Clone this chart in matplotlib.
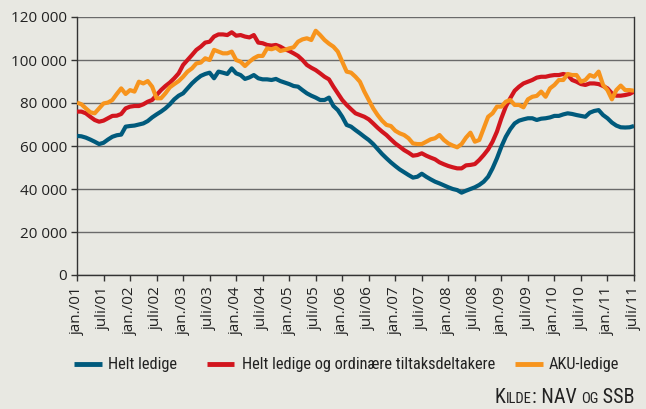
import matplotlib
matplotlib.use("Agg")
import matplotlib.pyplot as plt
from matplotlib import font_manager
from matplotlib.lines import Line2D

# ---- data (thousands of persons), monthly jan 2001 .. jul 2011 ----
helt_ledige = [
    64.7, 64.5, 63.9, 63.0, 62.0, 60.9, 61.5, 63.0, 64.3, 65.0,
    65.3, 69.0, 69.3, 69.5, 70.0, 70.5, 71.6, 73.3, 74.7, 76.0,
    77.5, 79.4, 81.7, 83.4, 84.5, 86.8, 89.1, 91.0, 92.6, 93.5,
    94.1, 91.5, 94.6, 94.1, 93.5, 96.1, 93.8, 93.0, 91.2, 91.9,
    93.0, 91.5, 91.0, 91.0, 90.7, 91.2, 90.2, 89.5, 88.8, 87.9,
    87.6, 86.0, 84.5, 83.4, 82.5, 81.4, 81.4, 82.5, 78.6, 76.7,
    73.6, 69.8, 69.0, 67.4, 65.9, 64.3, 62.8, 60.9, 58.6, 56.3,
    54.3, 52.4, 50.7, 49.1, 47.8, 46.5, 45.3, 45.7, 47.1, 45.7,
    44.5, 43.4, 42.6, 41.7, 40.8, 40.0, 39.5, 38.3, 39.2, 40.0,
    40.8, 41.9, 43.4, 45.7, 49.6, 54.3, 59.7, 64.3, 67.8, 70.5,
    71.8, 72.4, 72.9, 72.9, 72.1, 72.7, 72.9, 73.3, 74.0, 74.0,
    74.7, 75.2, 74.9, 74.4, 74.0, 73.6, 75.5, 76.3, 76.7, 74.4,
    72.9, 70.9, 69.5, 68.7, 68.6, 68.7, 69.3,
]
helt_ledige_tiltak = [
    76.0, 76.0, 75.2, 73.6, 72.1, 71.3, 71.8, 72.9, 74.0, 74.1,
    74.9, 77.5, 78.3, 78.6, 78.6, 79.4, 80.6, 81.4, 83.7, 86.0,
    87.9, 89.5, 91.5, 93.8, 97.7, 100.0, 102.3, 104.7, 106.2, 108.1,
    108.5, 110.9, 111.9, 111.9, 111.6, 112.9, 111.3, 111.6, 110.9, 110.5,
    111.6, 108.1, 107.8, 107.0, 106.7, 107.0, 106.2, 105.0, 104.2, 103.1,
    101.9, 100.0, 97.7, 96.4, 95.3, 93.8, 92.2, 91.0, 87.6, 84.5,
    81.4, 79.1, 77.1, 75.2, 74.4, 73.6, 72.4, 70.5, 68.5, 66.7,
    65.1, 63.1, 61.2, 59.7, 58.1, 56.9, 55.5, 55.8, 56.6, 55.5,
    54.6, 53.8, 52.4, 51.5, 50.7, 50.1, 49.6, 49.6, 51.0, 51.2,
    51.6, 53.5, 55.8, 58.4, 62.0, 66.7, 72.9, 78.3, 82.2, 85.7,
    87.6, 89.1, 89.9, 90.7, 91.8, 92.2, 92.2, 92.7, 93.0, 93.0,
    93.5, 93.0, 90.7, 89.9, 88.8, 88.4, 89.1, 89.1, 88.8, 87.9,
    86.8, 84.5, 83.4, 83.4, 83.7, 84.2, 85.3,
]
aku_ledige = [
    80.2, 79.4, 77.5, 75.7, 75.2, 77.5, 79.8, 80.2, 81.4, 84.2,
    86.8, 84.2, 86.0, 85.3, 89.9, 89.1, 90.2, 87.6, 82.2, 82.2,
    84.5, 87.3, 88.8, 90.2, 92.2, 94.6, 96.1, 98.4, 98.8, 100.8,
    100.0, 104.7, 103.9, 103.1, 103.1, 103.9, 100.0, 99.2, 97.2, 99.2,
    100.8, 101.9, 101.9, 105.4, 105.0, 105.7, 104.2, 104.7, 105.4, 105.9,
    108.5, 109.6, 110.1, 109.3, 113.6, 111.6, 109.3, 107.6, 106.2, 103.9,
    99.2, 94.6, 94.1, 92.2, 89.9, 85.3, 81.4, 77.5, 74.4, 71.8,
    69.8, 69.3, 67.1, 65.9, 65.1, 63.6, 61.2, 60.9, 60.9, 62.0,
    63.1, 63.6, 65.1, 62.8, 61.2, 60.2, 59.4, 60.9, 63.9, 66.2,
    62.0, 62.8, 68.2, 73.6, 75.2, 78.3, 78.3, 80.6, 81.4, 79.1,
    79.1, 78.0, 81.7, 82.9, 83.3, 85.3, 82.9, 86.8, 88.4, 90.7,
    90.7, 93.5, 93.0, 93.0, 89.9, 90.7, 93.0, 92.2, 94.6, 88.4,
    86.0, 81.7, 86.0, 88.1, 86.0, 86.0, 85.7,
]
series_names = ["Helt ledige", "Helt ledige og ordinære tiltaksdeltakere", "AKU-ledige"]
series_colors = ["#005a7c", "#d2151e", "#f7941d"]
year_labels = ["01", "02", "03", "04", "05", "06", "07", "08", "09", "10", "11"]
y_ticks = [0, 20000, 40000, 60000, 80000, 100000, 120000]
source_parts = [("K", True), ("ILDE", False), (": NAV ", True), ("OG", False), (" SSB", True)]

# ---- style ----
BG = "#e8e8e2"
W, H = 646, 409
available = {f.name for f in font_manager.fontManager.ttflist}
COND = "Lato"
for cand in ["Liberation Sans Narrow", "Roboto Condensed", "Open Sans Condensed", "Lato"]:
    if cand in available:
        COND = cand
        break
TICKF = "Open Sans"
plt.rcParams["font.family"] = [TICKF, "DejaVu Sans"]

fig = plt.figure(figsize=(W / 100, H / 100), dpi=100, facecolor=BG)
ax = fig.add_axes([77 / W, 1 - 275 / H, (634 - 77) / W, (275 - 17) / H])
ax.set_facecolor(BG)

months = list(range(len(helt_ledige)))
all_series = [helt_ledige, helt_ledige_tiltak, aku_ledige]
for vals, name, col in zip(all_series, series_names, series_colors):
    ax.plot(months, [v * 1000 for v in vals], color=col, lw=3.0, label=name,
            solid_joinstyle="round", solid_capstyle="butt", zorder=3)

ax.set_xlim(0, len(helt_ledige) - 1)
ax.set_ylim(0, 120000)

ax.set_yticks(y_ticks)
ax.set_yticklabels([f"{v:,}".replace(",", " ") for v in y_ticks],
                   fontsize=11, color="#222222")
xt = list(range(0, len(helt_ledige), 6))
xl = []
for i, _ in enumerate(xt):
    yr = year_labels[i // 2]
    xl.append(f"jan./{yr}" if i % 2 == 0 else f"juli/{yr}")
ax.set_xticks(xt)
ax.set_xticklabels(xl, rotation=90, fontsize=11, color="#222222")

ax.grid(axis="y", color="#6a6a6a", lw=1.0, zorder=1)
ax.tick_params(axis="both", direction="out", length=4, width=1, color="#333333", pad=3)
ax.tick_params(axis="x", pad=4)
for s in ["left", "bottom", "right"]:
    ax.spines[s].set_color("#333333")
    ax.spines[s].set_linewidth(1.0)
ax.spines["top"].set_visible(False)

# ---- legend drawn in figure pixel positions ----
leg_y = 1 - 364 / H
handle_px = [(74, 102), (207, 234), (515, 543)]
text_px = [108, 242, 549]
leg_texts = []
for (x0, x1), tx, name, col in zip(handle_px, text_px, series_names, series_colors):
    fig.add_artist(Line2D([x0 / W, x1 / W], [leg_y, leg_y], color=col, lw=3.5,
                          solid_capstyle="butt", transform=fig.transFigure))
    leg_texts.append(fig.text(tx / W, leg_y, name, fontsize=11, color="#222222",
                              va="center", ha="left", family=[COND, "DejaVu Sans"]))

# source text in small caps, right-aligned
src_texts = []
for s, big in source_parts:
    src_texts.append(fig.text(0, 1 - 403 / H, s, fontsize=14.5 if big else 10.5,
                              color="#222222", va="baseline", ha="left",
                              family=[COND, "DejaVu Sans"]))
fig.canvas.draw()
r = fig.canvas.get_renderer()
# fit legend font so the long label spans about 254 px as in the reference
wlong = leg_texts[1].get_window_extent(r).width
fs = 11 * 254 / wlong
for t in leg_texts:
    t.set_fontsize(min(fs, 12))
# source: fit total width ~ 144 px
widths = [t.get_window_extent(r).width for t in src_texts]
scale = 144 / sum(widths)
for t in src_texts:
    t.set_fontsize(t.get_fontsize() * min(1.0, scale))
fig.canvas.draw()
widths = [t.get_window_extent(r).width for t in src_texts]
x = 635 - sum(widths)
for t, w in zip(src_texts, widths):
    t.set_x(x / W)
    x += w

fig.savefig("out.png", dpi=100, facecolor=BG)
